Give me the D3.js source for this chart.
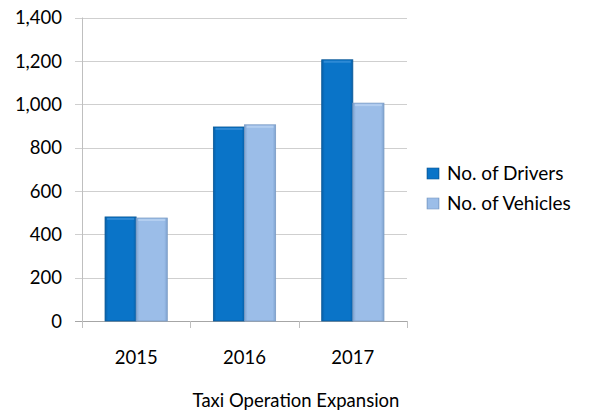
<!DOCTYPE html>
<html lang="en">
<head>
    <meta charset="utf-8" />
    <title>Taxi Operation Expansion</title>
    <script src="https://d3js.org/d3.v7.min.js"></script>
    <style>
        body { margin: 0; background: #fff; }
        text { font-family: Lato, "Open Sans", sans-serif; fill: #000; }
    </style>
</head>
<body>
<script>

    var years = ["2015", "2016", "2017"];
    var drivers = [480, 895, 1205];
    var vehicles = [475, 905, 1005];
    var seriesNames = ["No. of Drivers", "No. of Vehicles"];
    var yTicks = [0, 200, 400, 600, 800, 1000, 1200, 1400];

    var w = 590, h = 412;
    var plotLeft = 82, plotRight = 407, plotTop = 17.5, plotBottom = 321;

    var svg = d3.select("body").append("svg")
        .attr("width", w)
        .attr("height", h);

    // bevel-ish gradients for the bars
    var defs = svg.append("defs");
    function bevel(id, edge, mid) {
        var g = defs.append("linearGradient").attr("id", id)
            .attr("x1", 0).attr("x2", 1).attr("y1", 0).attr("y2", 0);
        g.append("stop").attr("offset", "0%").attr("stop-color", edge);
        g.append("stop").attr("offset", "10%").attr("stop-color", mid);
        g.append("stop").attr("offset", "90%").attr("stop-color", mid);
        g.append("stop").attr("offset", "100%").attr("stop-color", edge);
    }
    bevel("gDrivers", "#0860a8", "#0a74c8");
    bevel("gVehicles", "#7fa3d0", "#9bbde8");

    var colors = ["url(#gDrivers)", "url(#gVehicles)"];
    var strokes = ["#0a5896", "#7c9cc4"];
    var tops = ["#4b9be0", "#c7dcf6"];
    var legendColors = ["url(#gDrivers)", "url(#gVehicles)"];

    var x = d3.scaleBand()
        .domain(years)
        .range([plotLeft, plotRight]);

    var xInner = d3.scaleBand()
        .domain([0, 1])
        .range([0, x.bandwidth()])
        .paddingOuter(0.74)
        .paddingInner(0);

    var y = d3.scaleLinear()
        .domain([0, 1400])
        .range([plotBottom, plotTop]);

    // gridlines
    svg.append("g")
        .selectAll("line")
        .data(yTicks)
        .enter()
        .append("line")
        .attr("x1", plotLeft - 7)
        .attr("x2", plotRight)
        .attr("y1", function (d) { return Math.round(y(d)) + 0.5; })
        .attr("y2", function (d) { return Math.round(y(d)) + 0.5; })
        .attr("stroke", function (d) { return d === 0 ? "#a6a6a6" : "#cfcfcf"; })
        .attr("stroke-width", 1.2);

    // y axis line
    svg.append("line")
        .attr("x1", plotLeft + 0.5).attr("x2", plotLeft + 0.5)
        .attr("y1", y(1400)).attr("y2", plotBottom)
        .attr("stroke", "#bfbfbf");

    // x tick marks
    svg.append("g")
        .selectAll("line")
        .data(years.concat(["end"]))
        .enter()
        .append("line")
        .attr("x1", function (d, i) { return Math.round(plotLeft + i * x.step()) + 0.5; })
        .attr("x2", function (d, i) { return Math.round(plotLeft + i * x.step()) + 0.5; })
        .attr("y1", plotBottom)
        .attr("y2", plotBottom + 7)
        .attr("stroke", "#bfbfbf");

    // y labels
    svg.append("g")
        .selectAll("text")
        .data(yTicks)
        .enter()
        .append("text")
        .text(function (d) { return d3.format(",")(d); })
        .attr("x", 62)
        .attr("y", function (d) { return y(d); })
        .attr("dy", "0.36em")
        .attr("text-anchor", "end")
        .attr("font-size", "18.5px");

    // x labels
    svg.append("g")
        .selectAll("text")
        .data(years)
        .enter()
        .append("text")
        .text(function (d) { return d; })
        .attr("x", function (d) { return x(d) + x.bandwidth() / 2; })
        .attr("y", 357)
        .attr("dy", "0.36em")
        .attr("text-anchor", "middle")
        .attr("font-size", "18.5px");

    // bars
    var series = [drivers, vehicles];
    series.forEach(function (vals, s) {
        var g = svg.append("g");
        g.selectAll("rect.bar")
            .data(vals)
            .enter()
            .append("rect")
            .attr("class", "bar")
            .attr("x", function (d, i) { return x(years[i]) + xInner(s); })
            .attr("y", function (d) { return y(d); })
            .attr("width", xInner.bandwidth())
            .attr("height", function (d) { return plotBottom - y(d); })
            .attr("fill", colors[s])
            .attr("stroke", strokes[s])
            .attr("stroke-width", 0.8);
        g.selectAll("rect.hi")
            .data(vals)
            .enter()
            .append("rect")
            .attr("class", "hi")
            .attr("x", function (d, i) { return x(years[i]) + xInner(s) + 2; })
            .attr("y", function (d) { return y(d) + 1; })
            .attr("width", xInner.bandwidth() - 4)
            .attr("height", 2)
            .attr("fill", tops[s])
            .attr("opacity", 0.55);
    });

    // legend
    var legend = svg.append("g")
        .selectAll("g")
        .data(seriesNames)
        .enter()
        .append("g")
        .attr("transform", function (d, i) { return "translate(427," + (168 + i * 30) + ")"; });

    legend.append("rect")
        .attr("width", 12)
        .attr("height", 11)
        .attr("fill", function (d, i) { return legendColors[i]; })
        .attr("stroke", function (d, i) { return strokes[i]; })
        .attr("stroke-width", 0.6);

    legend.append("text")
        .text(function (d) { return d; })
        .attr("x", 20)
        .attr("y", 5.5)
        .attr("dy", "0.36em")
        .attr("font-size", "19px");

    // title
    svg.append("text")
        .text("Taxi Operation Expansion")
        .attr("x", 296)
        .attr("y", 400)
        .attr("dy", "0.36em")
        .attr("text-anchor", "middle")
        .attr("font-size", "18.5px");

</script>
</body>
</html>
